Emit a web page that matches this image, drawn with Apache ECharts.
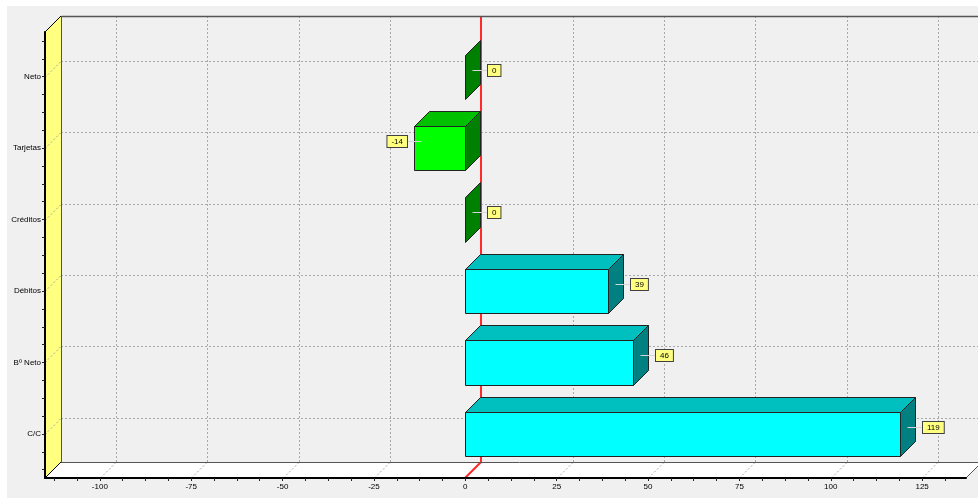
<!DOCTYPE html>
<html>
<head>
<meta charset="utf-8">
<script src="https://cdn.jsdelivr.net/npm/echarts@6/dist/echarts.min.js"></script>
<style>
html,body{margin:0;padding:0;background:#fff;}
#main{width:978px;height:498px;}
</style>
</head>
<body>
<div id="main"></div>
<script>
var categories = ['C/C', 'Bº Neto', 'Débitos', 'Créditos', 'Tarjetas', 'Neto'];
var values = [119, 46, 39, 0, -14, 0];
var xTickLabels = [-100, -75, -50, -25, 0, 25, 50, 75, 100, 125];
var catTicks = [0, 1, 2, 3, 4, 5];

var X_MIN = -115, X_MAX = 137;
var Y_MIN = -0.617, Y_MAX = 5.626;
var WALL = 16, DEPTH = 15, HALF = 0.31;
var FONT = 'Liberation Sans';

// minor ticks, 4 steps between the labelled ones
var minorX = [];
for (var t = -112.5; t <= X_MAX; t += 6.25) minorX.push(t);
var minorY = [];
for (var c = -0.5; c <= 5.5; c += 0.25) minorY.push(c);

var cyan = {front: '#00ffff', top: '#00bfbf', side: '#008080'};
var green = {front: '#00ff00', top: '#00c000', side: '#008000'};

function px(v) { return Math.round(v) + 0.5; }

function renderWalls(params, api) {
    var lo = api.coord([X_MIN, Y_MIN]), hi = api.coord([X_MAX, Y_MAX]);
    var L = Math.round(lo[0]), B = Math.round(lo[1]), R = Math.round(hi[0]), T = Math.round(hi[1]);
    var W = api.getWidth();
    var dash = {stroke: '#a8a8a8', lineWidth: 1, lineDash: [2, 2], fill: null};
    var kids = [];

    kids.push({type: 'polygon', shape: {points: [[L, T], [L + WALL, T - WALL], [L + WALL, B - WALL], [L, B]]},
        style: {fill: '#ffff80', stroke: null}});
    kids.push({type: 'polygon', shape: {points: [[L, B], [L + WALL, B - WALL], [R + WALL, B - WALL], [R, B]]},
        style: {fill: '#ffffff', stroke: null}});

    // back wall grid
    xTickLabels.forEach(function (v) {
        var x = px(api.coord([v, 0])[0]);
        kids.push({type: 'line', shape: {x1: x + WALL, y1: T - WALL, x2: x + WALL, y2: B - WALL}, style: dash});
        kids.push({type: 'line', shape: {x1: x, y1: B, x2: x + WALL, y2: B - WALL}, style: dash});
    });
    catTicks.forEach(function (v) {
        var y = px(api.coord([0, v])[1]);
        kids.push({type: 'line', shape: {x1: L + WALL, y1: y - WALL, x2: W, y2: y - WALL}, style: dash});
        kids.push({type: 'line', shape: {x1: L, y1: y, x2: L + WALL, y2: y - WALL}, style: dash});
    });

    // zero line
    var z = Math.round(api.coord([0, 0])[0]);
    kids.push({type: 'polyline', shape: {points: [[z + WALL, T - WALL], [z + WALL, B - WALL], [z, B]]},
        style: {stroke: '#ff2a2a', lineWidth: 2, fill: null}});

    var edge = {stroke: '#555555', lineWidth: 1, fill: null};
    kids.push({type: 'line', shape: {x1: L + WALL + 0.5, y1: T - WALL + 0.5, x2: W, y2: T - WALL + 0.5}, style: {stroke: '#555555', lineWidth: 1.5}});
    kids.push({type: 'line', shape: {x1: L + WALL + 0.5, y1: T - WALL, x2: L + WALL + 0.5, y2: B - WALL}, style: edge});
    kids.push({type: 'line', shape: {x1: L + WALL, y1: B - WALL + 0.5, x2: W, y2: B - WALL + 0.5}, style: edge});
    kids.push({type: 'line', shape: {x1: R, y1: B, x2: R + WALL, y2: B - WALL}, style: edge});
    kids.push({type: 'line', shape: {x1: L, y1: T, x2: L + WALL, y2: T - WALL}, style: {stroke: '#000', lineWidth: 1}});
    kids.push({type: 'line', shape: {x1: L, y1: B, x2: L + WALL, y2: B - WALL}, style: {stroke: '#000', lineWidth: 1}});

    return {type: 'group', children: kids};
}

function renderBar(params, api) {
    var i = api.value(0), v = api.value(1);
    var a = api.coord([0, i + HALF]), b = api.coord([v, i - HALF]);
    var x0 = Math.round(Math.min(a[0], b[0])), x1 = Math.round(Math.max(a[0], b[0]));
    var yT = Math.round(a[1]), yB = Math.round(b[1]);
    var pal = v > 0 ? cyan : green;
    var line = {stroke: '#222222', lineWidth: 1};
    var kids = [];

    if (x1 > x0) {
        kids.push({type: 'rect', shape: {x: x0 + 0.5, y: yT + 0.5, width: x1 - x0, height: yB - yT},
            style: {fill: pal.front, stroke: line.stroke, lineWidth: 1}});
        kids.push({type: 'polygon', shape: {points: [[x0 + 0.5, yT + 0.5], [x0 + DEPTH + 0.5, yT - DEPTH + 0.5], [x1 + DEPTH + 0.5, yT - DEPTH + 0.5], [x1 + 0.5, yT + 0.5]]},
            style: {fill: pal.top, stroke: line.stroke, lineWidth: 1}});
    }
    kids.push({type: 'polygon', shape: {points: [[x1 + 0.5, yT + 0.5], [x1 + DEPTH + 0.5, yT - DEPTH + 0.5], [x1 + DEPTH + 0.5, yB - DEPTH + 0.5], [x1 + 0.5, yB + 0.5]]},
        style: {fill: pal.side, stroke: line.stroke, lineWidth: 1}});

    // mark: connector + yellow box
    var dir = v < 0 ? -1 : 1;
    var ax = (v < 0 ? x0 : x1) + DEPTH / 2;
    var ay = px((yT + yB) / 2 - DEPTH / 2);
    kids.push({type: 'line', shape: {x1: ax, y1: ay, x2: ax + dir * 15, y2: ay}, style: {stroke: '#d6d6d6', lineWidth: 1}});
    kids.push({type: 'text', x: Math.round(ax + dir * 15), y: ay,
        style: {text: String(v), fill: '#000', font: '8px "' + FONT + '"', align: dir > 0 ? 'left' : 'right',
            verticalAlign: 'middle', backgroundColor: '#ffff80', borderColor: '#404040', borderWidth: 1,
            padding: [2, 4, 1, 4]}});

    return {type: 'group', children: kids};
}

var chart = echarts.init(document.getElementById('main'));
chart.setOption({
    backgroundColor: '#f0f0f0',
    animation: false,
    graphic: [
        {type: 'rect', shape: {x: 0, y: 0, width: 978, height: 6}, style: {fill: '#fff'}, silent: true},
        {type: 'rect', shape: {x: 0, y: 0, width: 7, height: 498}, style: {fill: '#fff'}, silent: true}
    ],
    grid: {left: 45, right: 12, top: 32, bottom: 20, containLabel: false},
    xAxis: {
        type: 'value', min: X_MIN, max: X_MAX, z: 5,
        axisLine: {show: true, onZero: false, lineStyle: {color: '#000', width: 2}},
        axisTick: {show: true, length: 3, customValues: minorX, lineStyle: {color: '#222'}},
        axisLabel: {customValues: xTickLabels, margin: 5, fontSize: 8, fontFamily: FONT, color: '#000'},
        splitLine: {show: false}
    },
    yAxis: {
        type: 'value', min: Y_MIN, max: Y_MAX, z: 5,
        axisLine: {show: true, onZero: false, lineStyle: {color: '#000', width: 2}},
        axisTick: {show: true, length: 3, customValues: minorY, lineStyle: {color: '#222'}},
        axisLabel: {customValues: catTicks, margin: 4, fontSize: 8, fontFamily: FONT, color: '#000',
            formatter: function (v) { return categories[Math.round(v)]; }},
        splitLine: {show: false}
    },
    series: [
        {type: 'custom', z: 1, silent: true, renderItem: renderWalls, data: [[0, 0]]},
        {type: 'custom', z: 3, silent: true, renderItem: renderBar,
            encode: {x: 1, y: 0},
            data: values.map(function (v, i) { return [i, v]; })}
    ]
});
</script>
</body>
</html>
